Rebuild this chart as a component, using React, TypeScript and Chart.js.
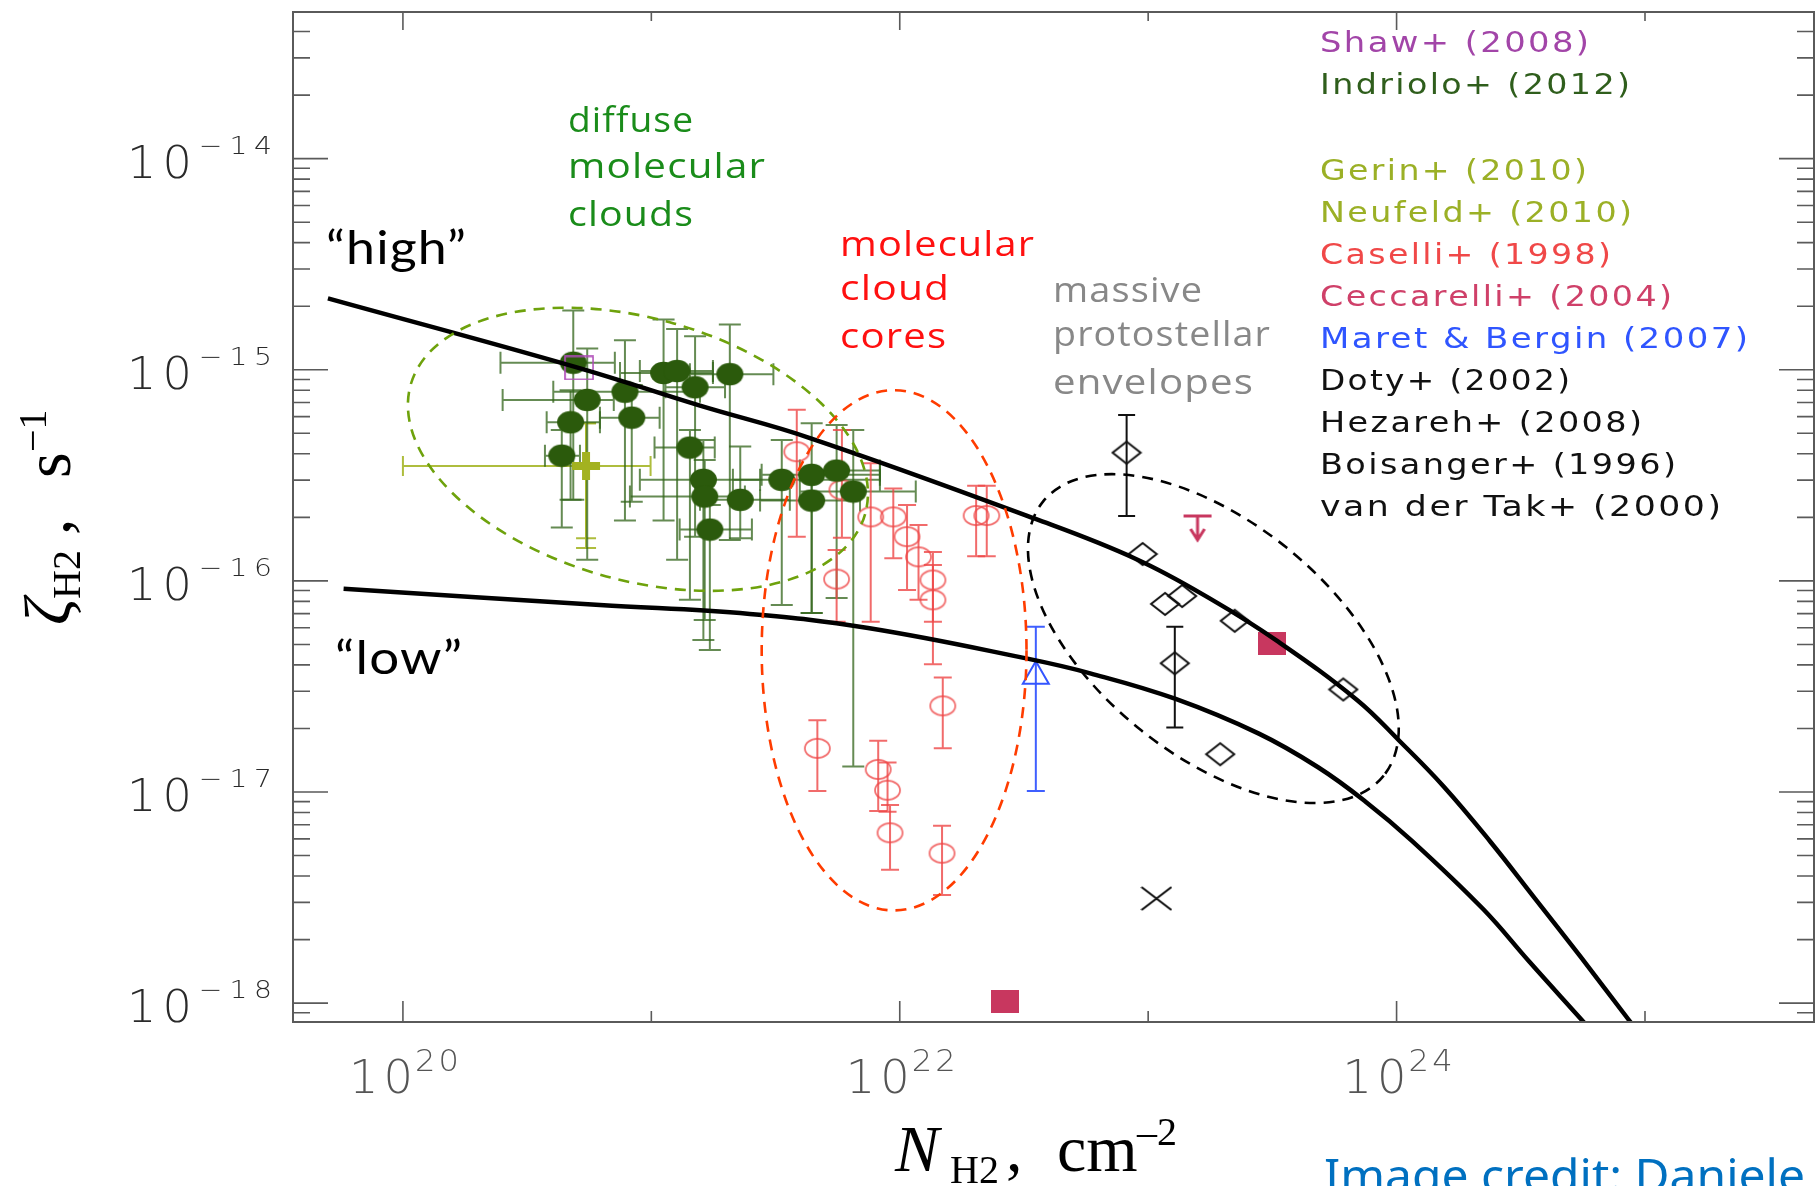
import React, { useEffect, useRef } from "react";
import { Chart, registerables } from "chart.js";

Chart.register(...registerables);

// ---------- axis ranges (N_H2 in cm^-2, zeta_H2 in s^-1) ----------
const N_MIN = 3.61e19;
const N_MAX = 4.79e25;
const ZETA_MIN = 8.14e-19;
const ZETA_MAX = 4.95e-14;

const N_LABELED_TICKS = [1e20, 1e22, 1e24];
const N_LABEL_EXPONENTS = ["20", "22", "24"];
const N_MINOR_TICKS = [1e21, 1e23, 1e25];
const ZETA_LABELED_TICKS = [1e-14, 1e-15, 1e-16, 1e-17, 1e-18];
const ZETA_LABEL_EXPONENTS = ["\u221214", "\u221215", "\u221216", "\u221217", "\u221218"];

// ---------- model curves ----------
const highN = [4.99e19, 4.97e20, 1.57e21, 4.35e21, 3.5e22, 8.93e22, 1.81e23, 3.35e23, 6.93e23, 1.03e24, 1.55e24, 2.39e24, 3.57e24, 5.52e24, 8.55e24, 9.14e24];
const highZeta = [2.18e-15, 1.03e-15, 6.76e-16, 4.75e-16, 1.97e-16, 1.27e-16, 8.13e-17, 5.14e-17, 2.73e-17, 1.74e-17, 1.06e-17, 5.8e-18, 3.18e-18, 1.65e-18, 8.41e-19, 7.6e-19];
const lowN = [5.77e19, 6.21e20, 2.49e21, 7.45e21, 3.3e22, 5.89e22, 1.29e23, 2.79e23, 4.83e23, 7.46e23, 1.15e24, 2.23e24, 3.44e24, 5.52e24, 5.95e24];
const lowZeta = [9.18e-17, 7.69e-17, 6.97e-17, 5.98e-17, 4.27e-17, 3.64e-17, 2.76e-17, 1.89e-17, 1.31e-17, 9.05e-18, 5.89e-18, 2.79e-18, 1.56e-18, 8.41e-19, 7.62e-19];

// ---------- Indriolo+ (2012) ----------
const indrioloN = [4.85e20, 5.52e20, 4.73e20, 4.36e20, 7.83e20, 8.34e20, 1.12e21, 1.27e21, 1.5e21, 2.07e21, 1.43e21, 1.62e21, 1.64e21, 2.28e21, 1.72e21, 3.35e21, 4.42e21, 5.57e21, 4.42e21, 6.5e21];
const indrioloZeta = [1.08e-15, 7.2e-16, 5.64e-16, 3.92e-16, 7.87e-16, 5.93e-16, 9.66e-16, 9.86e-16, 8.26e-16, 9.53e-16, 4.28e-16, 3.01e-16, 2.51e-16, 2.42e-16, 1.75e-16, 3.01e-16, 3.18e-16, 3.33e-16, 2.4e-16, 2.65e-16];
const indrioloNLo = [2.47e20, 2.52e20, 3.79e20, 3.73e20, 4.03e20, 6.21e20, 7.48e20, 8.99e20, 1.14e21, 1.43e21, 1.03e21, 8.99e20, 8.2e20, 1.57e21, 1.3e21, 2.13e21, 2.78e21, 3.96e21, 2.74e21, 3.96e21];
const indrioloNHi = [7.13e20, 7.06e20, 6.21e20, 5.16e20, 1.57e21, 1.08e21, 1.77e21, 1.77e21, 1.98e21, 3.1e21, 1.8e21, 2.74e21, 2.38e21, 3.61e21, 2.54e21, 8.32e21, 8.32e21, 8.32e21, 6.92e21, 1.16e22];
const indrioloZetaLo = [2.42e-16, 1.26e-16, 2.42e-16, 1.79e-16, 1.93e-16, 2.37e-16, 1.93e-16, 1.26e-16, 1.62e-16, 1.56e-16, 8.13e-17, 5.25e-17, 6.53e-17, 1.59e-16, 4.71e-17, 7.69e-17, 7.05e-17, 8.3e-17, 7.05e-17, 1.32e-17];
const indrioloZetaHi = [1.91e-15, 1.26e-15, 8.0e-16, 5.19e-16, 1.38e-15, 8.47e-16, 1.73e-15, 1.56e-15, 1.44e-15, 1.64e-15, 5.19e-16, 4.65e-16, 3.74e-16, 4.33e-16, 2.29e-16, 4.65e-16, 5.58e-16, 5.47e-16, 3.36e-16, 5.19e-16];

// ---------- Shaw+ (2008) ----------
const shawN = [5.12e20];
const shawZeta = [1.02e-15];

// ---------- Gerin+ (2010) / Neufeld+ (2010) ----------
const gerinN = [5.46e20];
const gerinZeta = [3.5e-16];
const gerinNLo = [1.0e20];
const gerinNHi = [9.93e20];
const gerinZetaLo = [1.43e-16];
const gerinZetaHi = [5.58e-16];
const neufeldN = [5.46e20];
const neufeldZeta = [3.5e-16];
const neufeldZetaLo = [1.59e-16];
const neufeldZetaHi = [5.58e-16];

// ---------- Caselli+ (1998) ----------
const caselliN = [3.85e21, 5.85e21, 5.57e21, 7.64e21, 9.42e21, 1.07e22, 1.19e22, 1.36e22, 1.36e22, 2.03e22, 2.24e22, 4.66e21, 8.19e21, 8.93e21, 9.14e21, 1.49e22, 1.48e22];
const caselliZeta = [4.09e-16, 2.7e-16, 1.02e-16, 2.01e-16, 2.01e-16, 1.62e-16, 1.3e-16, 1.01e-16, 8.13e-17, 2.04e-16, 2.04e-16, 1.61e-17, 1.28e-17, 1.02e-17, 6.41e-18, 2.56e-17, 5.13e-18];
const caselliZetaLo = [1.62e-16, 1.6e-16, 6.41e-17, 6.41e-17, 1.28e-16, 9.06e-17, 8.13e-17, 6.41e-17, 4.03e-17, 1.31e-16, 1.31e-16, 1.01e-17, 8.13e-18, 8.07e-18, 4.28e-18, 1.61e-17, 3.25e-18];
const caselliZetaHi = [6.46e-16, 5.19e-16, 1.4e-16, 3.61e-16, 2.74e-16, 2.29e-16, 1.84e-16, 1.37e-16, 1.19e-16, 2.82e-16, 2.82e-16, 2.19e-17, 1.75e-17, 1.38e-17, 8.67e-18, 3.49e-17, 6.92e-18];

// ---------- Ceccarelli+ (2004) ----------
const ceccarelliN = [2.66e22, 3.14e23];
const ceccarelliZeta = [1.02e-18, 5.06e-17];
const ceccarelliLimitN = [1.58e23];
const ceccarelliLimitZeta = [2.03e-16];

// ---------- Maret & Bergin (2007) ----------
const maretN = [3.53e22];
const maretZeta = [3.53e-17];
const maretZetaLo = [1.01e-17];
const maretZetaHi = [6.07e-17];

// ---------- massive protostellar envelopes ----------
const dotyN = [8.19e22, 1.28e23];
const dotyZeta = [4.05e-16, 4.07e-17];
const dotyZetaLo = [2.03e-16, 2.02e-17];
const dotyZetaHi = [6.11e-16, 6.07e-17];
const vanDerTakN = [9.5e22, 1.17e23, 1.37e23, 2.23e23, 6.1e23, 1.95e23];
const vanDerTakZeta = [1.34e-16, 7.78e-17, 8.48e-17, 6.47e-17, 3.06e-17, 1.51e-17];
const boisangerN = [1.08e23];
const boisangerZeta = [3.13e-18];

// ---------- source regions (dashed ellipses) ----------
const regionCenterN = [8.83e20, 9.49e21, 1.83e23];
const regionCenterZeta = [4.2e-16, 4.69e-17, 5.33e-17];
const regionSemiAxisNDex = [0.951, 0.533, 0.88];
const regionSemiAxisZetaDex = [0.62, 1.232, 0.553];
const regionTiltDeg = [15.9, 0, 38.8];

// ---------- texts ----------
const legendLabels = ["Shaw+ (2008)", "Indriolo+ (2012)", "Gerin+ (2010)", "Neufeld+ (2010)", "Caselli+ (1998)", "Ceccarelli+ (2004)", "Maret & Bergin (2007)", "Doty+ (2002)", "Hezareh+ (2008)", "Boisanger+ (1996)", "van der Tak+ (2000)"];
const diffuseLabel = ["diffuse", "molecular", "clouds"];
const coresLabel = ["molecular", "cloud", "cores"];
const envelopesLabel = ["massive", "protostellar", "envelopes"];

// ================= styles / layout (not data) =================
const PAD = { left: 293, top: 12, right: 2, bottom: 164 };
const LEGEND_COLORS = ["#a245a8", "#2f5e1c", "#9bb026", "#9bb026", "#f04848", "#cf4069", "#2f55ff", "#111111", "#111111", "#111111", "#111111"];
const LEGEND_BASELINES = [52, 94, 180, 222, 264, 306, 348, 390, 432, 474, 516];
const LEGEND_WIDTHS = [269, 310, 267, 312, 291, 352, 428, 250, 322, 356, 401];
const REGION_COLORS = ["#6ea20c", "#ff3c00", "#000000"];

function pts(xs: number[], ys: number[], extra?: (i: number) => any) {
  return xs.map((x, i) => Object.assign({ x, y: ys[i] }, extra ? extra(i) : {}));
}

// Draw text fitted to a width: part letter spacing, part horizontal stretch.
function drawFit(ctx: any, text: string, x: number, y: number, width: number, font: string, color: string, ls = 0) {
  ctx.save();
  ctx.font = font;
  ctx.fillStyle = color;
  ctx.textAlign = "left";
  ctx.textBaseline = "alphabetic";
  const n = Array.from(text).length;
  ctx.letterSpacing = "0px";
  const w0 = ctx.measureText(text).width;
  const wl = w0 + ls * (n - 1);
  const sx = width / wl;
  ctx.letterSpacing = ls.toFixed(2) + "px";
  ctx.translate(x, y);
  ctx.scale(sx, 1);
  ctx.fillText(text, 0, 0);
  ctx.restore();
}

function clipArea(chart: any) {
  const ca = chart.chartArea;
  chart.ctx.beginPath();
  chart.ctx.rect(ca.left, ca.top, ca.right - ca.left, ca.bottom - ca.top);
  chart.ctx.clip();
}

const errorBarPlugin = {
  id: "errorBars",
  beforeDatasetsDraw(chart: any) {
    const { ctx } = chart;
    const xs = chart.scales.x;
    const ys = chart.scales.y;
    ctx.save();
    clipArea(chart);
    chart.data.datasets.forEach((ds: any) => {
      const eb = ds.errorBar;
      if (!eb) return;
      ctx.strokeStyle = eb.color;
      ctx.lineWidth = eb.width;
      const h = eb.cap / 2;
      ds.data.forEach((p: any) => {
        const px = xs.getPixelForValue(p.x);
        const py = ys.getPixelForValue(p.y);
        ctx.beginPath();
        if (p.xMin != null && p.xMax != null) {
          const a = xs.getPixelForValue(p.xMin);
          const b = xs.getPixelForValue(p.xMax);
          ctx.moveTo(a, py); ctx.lineTo(b, py);
          ctx.moveTo(a, py - h); ctx.lineTo(a, py + h);
          ctx.moveTo(b, py - h); ctx.lineTo(b, py + h);
        }
        if (p.yMin != null && p.yMax != null) {
          const a = ys.getPixelForValue(p.yMin);
          const b = ys.getPixelForValue(p.yMax);
          ctx.moveTo(px, a); ctx.lineTo(px, b);
          ctx.moveTo(px - h, a); ctx.lineTo(px + h, a);
          ctx.moveTo(px - h, b); ctx.lineTo(px + h, b);
        }
        ctx.stroke();
      });
    });
    ctx.restore();
  },
};

const regionPlugin = {
  id: "regions",
  afterDatasetsDraw(chart: any) {
    const { ctx } = chart;
    const xs = chart.scales.x;
    const ys = chart.scales.y;
    ctx.save();
    clipArea(chart);
    ctx.lineWidth = 2.6;
    ctx.setLineDash([11, 8]);
    regionCenterN.forEach((n, i) => {
      const cx = xs.getPixelForValue(n);
      const cy = ys.getPixelForValue(regionCenterZeta[i]);
      const rx = Math.abs(xs.getPixelForValue(n * Math.pow(10, regionSemiAxisNDex[i])) - cx);
      const ry = Math.abs(ys.getPixelForValue(regionCenterZeta[i] * Math.pow(10, regionSemiAxisZetaDex[i])) - cy);
      ctx.strokeStyle = REGION_COLORS[i];
      ctx.beginPath();
      ctx.ellipse(cx, cy, rx, ry, (regionTiltDeg[i] * Math.PI) / 180, 0, Math.PI * 2);
      ctx.stroke();
    });
    ctx.restore();
  },
};

const framePlugin = {
  id: "frame",
  afterDraw(chart: any) {
    const { ctx, chartArea: ca } = chart;
    const xs = chart.scales.x;
    const ys = chart.scales.y;
    ctx.save();
    ctx.strokeStyle = "#5a5a5a";
    ctx.lineWidth = 2;
    ctx.strokeRect(ca.left, ca.top, ca.right - ca.left, ca.bottom - ca.top);

    // y ticks (log, inward, both sides)
    ctx.lineWidth = 1.6;
    ctx.beginPath();
    for (let e = -19; e <= -14; e++) {
      for (let m = 1; m <= 9; m++) {
        const v = m * Math.pow(10, e);
        if (v < ZETA_MIN || v > ZETA_MAX) continue;
        const py = ys.getPixelForValue(v);
        const len = m === 1 ? 35 : 17;
        ctx.moveTo(ca.left, py); ctx.lineTo(ca.left + len, py);
        ctx.moveTo(ca.right, py); ctx.lineTo(ca.right - len, py);
      }
    }
    // x ticks
    N_LABELED_TICKS.forEach((v) => {
      const px = xs.getPixelForValue(v);
      ctx.moveTo(px, ca.bottom); ctx.lineTo(px, ca.bottom - 21);
      ctx.moveTo(px, ca.top); ctx.lineTo(px, ca.top + 18);
    });
    N_MINOR_TICKS.forEach((v) => {
      const px = xs.getPixelForValue(v);
      ctx.moveTo(px, ca.bottom); ctx.lineTo(px, ca.bottom - 11);
      ctx.moveTo(px, ca.top); ctx.lineTo(px, ca.top + 9);
    });
    ctx.stroke();

    // tick labels
    const tickFont = (s: number) => `200 ${s}px 'DejaVu Sans'`;
    ZETA_LABELED_TICKS.forEach((v, i) => {
      const py = ys.getPixelForValue(v);
      drawFit(ctx, "10", 127, py + 19, 65, tickFont(45), "#2a2a2a", 6);
      drawFit(ctx, ZETA_LABEL_EXPONENTS[i], 199, py - 5, 73, tickFont(25), "#2a2a2a", 6);
    });
    N_LABELED_TICKS.forEach((v, i) => {
      const px = xs.getPixelForValue(v);
      drawFit(ctx, "10", px - 54, 1093, 64, tickFont(46), "#555555", 5);
      drawFit(ctx, N_LABEL_EXPONENTS[i], px + 12, 1071, 44, tickFont(30), "#555555", 3);
    });

    // axis titles
    ctx.fillStyle = "#000";
    ctx.textAlign = "left";
    ctx.textBaseline = "alphabetic";
    ctx.font = "italic 66px 'Liberation Serif'";
    ctx.fillText("N", 895, 1171);
    ctx.font = "40px 'Liberation Serif'";
    ctx.fillText("H2", 950, 1183);
    ctx.font = "66px 'Liberation Serif'";
    ctx.fillText(",", 1006, 1171);
    ctx.fillText("cm", 1057, 1171);
    ctx.font = "40px 'Liberation Serif'";
    ctx.fillText("\u20132", 1137, 1145);

    ctx.save();
    ctx.translate(70, 625);
    ctx.rotate(-Math.PI / 2);
    ctx.font = "italic 66px 'Liberation Serif'";
    ctx.fillText("\u03b6", 0, 0);
    ctx.font = "40px 'Liberation Serif'";
    ctx.fillText("H2", 26, 10);
    ctx.font = "66px 'Liberation Serif'";
    ctx.fillText(",", 90, 0);
    ctx.fillText("s", 147, 0);
    ctx.font = "40px 'Liberation Serif'";
    ctx.fillText("\u22121", 173, -24);
    ctx.restore();

    // legend text
    legendLabels.forEach((t, i) => {
      drawFit(ctx, t, 1320, LEGEND_BASELINES[i], LEGEND_WIDTHS[i], "28px 'DejaVu Sans'", LEGEND_COLORS[i], 2);
    });

    // region labels
    const annFont = "34px 'Open Sans'";
    const dW = [125, 197, 125];
    const dB = [132, 178, 226];
    diffuseLabel.forEach((t, i) => drawFit(ctx, t, 568, dB[i], dW[i], annFont, "#1a8c1a", 1));
    const cW = [194, 109, 106];
    const cB = [256, 300, 348];
    coresLabel.forEach((t, i) => drawFit(ctx, t, 840, cB[i], cW[i], annFont, "#ff1010", 1));
    const eW = [149, 217, 200];
    const eB = [302, 346, 394];
    envelopesLabel.forEach((t, i) => drawFit(ctx, t, 1053, eB[i], eW[i], annFont, "#888888", 1));

    drawFit(ctx, "\u201chigh\u201d", 326, 264, 140, "46px 'Lato'", "#000000", 1);
    drawFit(ctx, "\u201clow\u201d", 335, 674, 127, "46px 'Lato'", "#000000", 1);

    drawFit(ctx, "Image credit: Daniele", 1324, 1192, 481, "46px 'Noto Sans'", "#0070c0", 0);
    ctx.restore();
  },
};

// ---------- marker glyphs (slightly wider than tall, as in the figure) ----------
function marker(w: number, h: number, draw: (g: CanvasRenderingContext2D, w: number, h: number) => void) {
  const c = document.createElement("canvas");
  c.width = w;
  c.height = h;
  const g = c.getContext("2d")!;
  draw(g, w, h);
  return c;
}

function makeMarkers() {
  const arrow = marker(32, 56, (g) => {
    g.strokeStyle = "#c8375f";
    g.lineWidth = 3;
    g.beginPath();
    g.moveTo(2, 28); g.lineTo(30, 28);
    g.moveTo(16, 28); g.lineTo(16, 51);
    g.moveTo(9, 41); g.lineTo(16, 52); g.lineTo(23, 41);
    g.stroke();
  });
  const filledEllipse = marker(29, 24, (g, w, h) => {
    g.fillStyle = "#2b5a0c";
    g.beginPath();
    g.ellipse(w / 2, h / 2, 13.5, 11.2, 0, 0, Math.PI * 2);
    g.fill();
  });
  const openEllipse = marker(29, 23, (g, w, h) => {
    g.strokeStyle = "rgba(238,70,70,0.78)";
    g.lineWidth = 1.8;
    g.beginPath();
    g.ellipse(w / 2, h / 2, 12.5, 9.6, 0, 0, Math.PI * 2);
    g.stroke();
  });
  const diamond = marker(32, 26, (g, w, h) => {
    g.strokeStyle = "#111";
    g.lineWidth = 2;
    g.beginPath();
    g.moveTo(w / 2, 2); g.lineTo(w - 2, h / 2); g.lineTo(w / 2, h - 2); g.lineTo(2, h / 2); g.closePath();
    g.stroke();
  });
  const filledSquare = marker(28, 23, (g, w, h) => {
    g.fillStyle = "#c8375f";
    g.fillRect(0, 0, w, h);
  });
  const openSquare = marker(30, 25, (g, w, h) => {
    g.strokeStyle = "#b04cb8";
    g.lineWidth = 1.6;
    g.strokeRect(1, 1, w - 2, h - 2);
  });
  const cross = marker(32, 25, (g, w, h) => {
    g.strokeStyle = "#111";
    g.lineWidth = 2.2;
    g.beginPath();
    g.moveTo(1, 1); g.lineTo(w - 1, h - 1);
    g.moveTo(w - 1, 1); g.lineTo(1, h - 1);
    g.stroke();
  });
  return { arrow, filledEllipse, openEllipse, diamond, filledSquare, openSquare, cross };
}

export default function App() {
  const ref = useRef<HTMLCanvasElement>(null);
  useEffect(() => {
    const canvas = ref.current!;
    const m = makeMarkers();
    const curveStyle = { showLine: true, borderColor: "#000", borderWidth: 4.5, pointRadius: 0, tension: 0.4, clip: 0 };
    const chart = new Chart(canvas, {
      type: "scatter",
      data: {
        datasets: [
          { label: "high", data: pts(highN, highZeta), ...curveStyle } as any,
          { label: "low", data: pts(lowN, lowZeta), ...curveStyle } as any,
          { label: "Ceccarelli+ (2004)", data: pts(ceccarelliN, ceccarelliZeta), pointStyle: m.filledSquare, pointRadius: 12 } as any,
          { label: "Ceccarelli+ (2004) limit", data: pts(ceccarelliLimitN, ceccarelliLimitZeta), pointStyle: m.arrow, pointRadius: 10 } as any,
          { label: "Doty+ (2002)", data: pts(dotyN, dotyZeta, (i) => ({ yMin: dotyZetaLo[i], yMax: dotyZetaHi[i] })), pointStyle: m.diamond, pointRadius: 13, errorBar: { color: "#111", width: 2, cap: 17 } } as any,
          { label: "van der Tak+ (2000)", data: pts(vanDerTakN, vanDerTakZeta), pointStyle: m.diamond, pointRadius: 13 } as any,
          { label: "Boisanger+ (1996)", data: pts(boisangerN, boisangerZeta), pointStyle: m.cross, pointRadius: 14 } as any,
          { label: "Maret & Bergin (2007)", data: pts(maretN, maretZeta, (i) => ({ yMin: maretZetaLo[i], yMax: maretZetaHi[i] })), pointStyle: "triangle", pointRadius: 15, backgroundColor: "rgba(0,0,0,0)", borderColor: "#3355ff", borderWidth: 2, errorBar: { color: "#3f5fff", width: 2, cap: 18 } } as any,
          { label: "Shaw+ (2008)", data: pts(shawN, shawZeta), pointStyle: m.openSquare, pointRadius: 13 } as any,
          { label: "Gerin+ (2010)", data: pts(gerinN, gerinZeta, (i) => ({ xMin: gerinNLo[i], xMax: gerinNHi[i], yMin: gerinZetaLo[i], yMax: gerinZetaHi[i] })), pointStyle: "cross", pointRadius: 14, borderColor: "#a3b220", borderWidth: 8, errorBar: { color: "rgba(165,182,40,0.9)", width: 2, cap: 20 } } as any,
          { label: "Neufeld+ (2010)", data: pts(neufeldN, neufeldZeta, (i) => ({ yMin: neufeldZetaLo[i], yMax: neufeldZetaHi[i] })), pointRadius: 0, errorBar: { color: "rgba(165,182,40,0.9)", width: 2, cap: 20 } } as any,
          { label: "Indriolo+ (2012)", data: pts(indrioloN, indrioloZeta, (i) => ({ xMin: indrioloNLo[i], xMax: indrioloNHi[i], yMin: indrioloZetaLo[i], yMax: indrioloZetaHi[i] })), pointStyle: m.filledEllipse, pointRadius: 13, errorBar: { color: "rgba(50,100,25,0.75)", width: 2, cap: 22 } } as any,
          { label: "Caselli+ (1998)", data: pts(caselliN, caselliZeta, (i) => ({ yMin: caselliZetaLo[i], yMax: caselliZetaHi[i] })), pointStyle: m.openEllipse, pointRadius: 12, errorBar: { color: "rgba(238,70,70,0.8)", width: 2, cap: 18 } } as any,
        ],
      },
      options: {
        responsive: false,
        animation: false,
        events: [],
        layout: { padding: PAD, autoPadding: false },
        plugins: { legend: { display: false }, tooltip: { enabled: false } },
        scales: {
          x: { type: "logarithmic", min: N_MIN, max: N_MAX, display: false },
          y: { type: "logarithmic", min: ZETA_MIN, max: ZETA_MAX, display: false },
        },
      } as any,
      plugins: [errorBarPlugin, regionPlugin, framePlugin],
    });
    return () => chart.destroy();
  }, []);

  return (
    <div style={{ position: "fixed", left: 0, top: 0, width: 1816, height: 1186, background: "#ffffff", overflow: "hidden" }}>
      <canvas ref={ref} width={1816} height={1186} style={{ display: "block", width: 1816, height: 1186 }} />
    </div>
  );
}
